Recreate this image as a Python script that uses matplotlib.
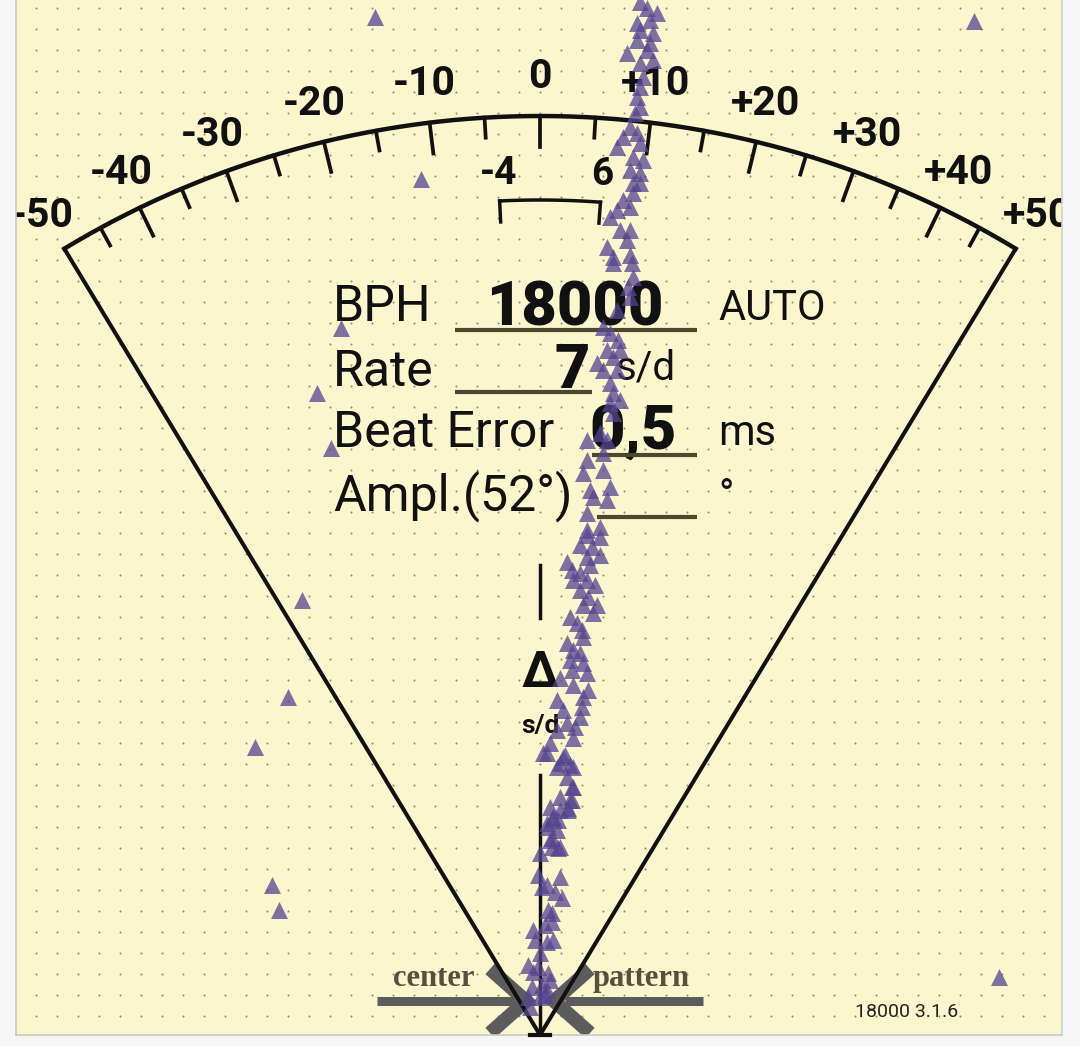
import numpy as np
import matplotlib.pyplot as plt
from matplotlib.patches import Rectangle

plt.rcParams["font.family"] = ["Roboto", "DejaVu Sans"]

# dial scale in s/d
major_ticks = [-40, -30, -20, -10, 0, 10, 20, 30, 40]
minor_ticks = [-45, -35, -25, -15, -5, 5, 15, 25, 35, 45]
scale_labels = [-50, -40, -30, -20, -10, 0, 10, 20, 30, 40, 50]
scale_edge = 50
bracket = [-4, 6]

# readout block
reading_names = ["BPH", "Rate", "Beat Error", "Ampl.(52°)"]
reading_values = ["18000", "7", "0,5", ""]
reading_units = ["AUTO", "s/d", "ms", "°"]
version = "18000 3.1.6"

# beat trace (screen px)
trace_x = [640, 647, 657, 637, 650, 640, 653, 637, 650, 627, 647, 653, 640, 643, 640,
           637, 640, 635, 630, 637, 623, 640, 617, 633, 643, 630, 640, 633, 640, 633,
           623, 630, 617, 610, 620, 630, 627, 607, 630, 613,
           613, 632, 633, 628, 630, 617, 603, 610, 618, 607, 620, 613, 597, 603, 617,
           610, 613, 620, 610, 613, 600, 587, 607, 603, 587, 603, 583, 610, 590, 593,
           607, 587, 600, 587,
           587, 600, 580, 592, 600, 587, 567, 590, 572, 580, 573, 587, 595, 580, 588,
           597, 583, 593, 570, 577, 582, 583, 567, 573, 580, 570, 583, 572, 587, 560,
           573, 588, 583, 557, 582, 563, 580, 567, 575, 557, 573, 550, 543, 547, 565,
           560, 570, 563, 557, 573, 567, 572, 573, 560, 570, 572, 550, 568, 560, 568,
           553, 552, 558, 547, 548, 557, 550, 552, 560, 558, 552, 540,
           538, 560, 547, 542, 555, 562, 548, 552, 552, 545, 533, 553, 535, 547, 540,
           528, 538, 533, 548, 550, 542, 532, 547, 545, 528, 540, 530]
trace_y = [2, 8, 13, 23, 20, 30, 33, 40, 43, 53, 50, 60, 63, 77, 87,
           97, 107, 113, 127, 133, 137, 143, 147, 157, 160, 170, 173, 183, 183, 193,
           200, 207, 210, 217, 230, 230, 240, 247, 255, 257,
           263, 263, 277, 287, 297, 310, 327, 333, 340, 350, 350, 357, 363, 370, 370,
           383, 393, 400, 403, 413, 433, 440, 440, 453, 460, 470, 473, 487, 490, 497,
           500, 513, 527, 530,
           535, 537, 545, 547, 555, 557, 562, 565, 570, 573, 580, 580, 585, 590, 597,
           605, 605, 613, 617, 623, 630, 637, 643, 650, 653, 660, 663, 670, 673, 678,
           685, 690, 697, 700, 707, 710, 717, 723, 727, 730, 738, 743, 753, 753, 755,
           763, 765, 757, 767, 767, 777, 787, 787, 797, 800, 800, 807, 808, 810, 810,
           817, 818, 820, 823, 827, 830, 840, 838, 847, 848, 847, 853,
           875, 877, 885, 887, 892, 898, 910, 913, 922, 925, 930, 940, 940, 942, 953,
           965, 967, 972, 973, 980, 985, 987, 990, 995, 997, 997, 1007]
stray_x = [375, 974, 421, 341, 317, 331, 302, 288, 255, 272, 279, 999]
stray_y = [17, 21, 179, 328, 393, 448, 600, 697, 747, 885, 910, 977]

# dial geometry
CX, CY = 540, 1035
R_ARC = 919
K = 0.0121


def polar(v, r):
    th = np.arctan(K * np.asarray(v, dtype=float))
    return CX + r * np.sin(th), CY - r * np.cos(th)


BG = "#f6f6f6"
PANEL = "#fcf6cf"
INK = "#111111"
ULINE = "#4f4630"

fig = plt.figure(figsize=(10.8, 10.46), dpi=100, facecolor=BG)
ax = fig.add_axes([0, 0, 1, 1])
ax.set_xlim(0, 1080)
ax.set_ylim(1046, 0)
ax.axis("off")

ax.add_patch(Rectangle((16, 0), 1046, 1035, fc=PANEL, ec="none", zorder=0))

# dotted grid
gx, gy = np.meshgrid(np.arange(15, 1062, 21), np.arange(8, 1035, 21))
ax.scatter(gx.ravel(), gy.ravel(), s=2.2, c="#958d74", linewidths=0, zorder=1)

# center / pattern marks
ax.plot([377, 515], [1001, 1001], color="#5c5c5c", lw=6.5, solid_capstyle="butt", zorder=2)
ax.plot([565, 703], [1001, 1001], color="#5c5c5c", lw=6.5, solid_capstyle="butt", zorder=2)
ax.plot([490, 526, 490], [969, 1001, 1033], color="#5c5c5c", lw=10,
        solid_joinstyle="miter", solid_capstyle="butt", zorder=2)
ax.plot([590, 554, 590], [969, 1001, 1033], color="#5c5c5c", lw=10,
        solid_joinstyle="miter", solid_capstyle="butt", zorder=2)
ax.text(434, 986, "center", ha="center", va="baseline", fontsize=22,
        family="Liberation Serif", weight="bold", color="#57503f", zorder=3)
ax.text(641, 986, "pattern", ha="center", va="baseline", fontsize=22,
        family="Liberation Serif", weight="bold", color="#57503f", zorder=3)

# dial arc and fan
vv = np.linspace(-scale_edge, scale_edge, 300)
ax_, ay_ = polar(vv, R_ARC)
ax.plot(ax_, ay_, color=INK, lw=3.2, zorder=4)
for edge in (-scale_edge, scale_edge):
    ex, ey = polar(edge, R_ARC)
    ax.plot([CX, ex], [CY, ey], color=INK, lw=2.9, solid_capstyle="round", zorder=4)
for v in major_ticks:
    x0, y0 = polar(v, R_ARC)
    x1, y1 = polar(v, R_ARC - 31)
    ax.plot([x0, x1], [y0, y1], color=INK, lw=2.7, zorder=4)
for v in minor_ticks:
    x0, y0 = polar(v, R_ARC)
    x1, y1 = polar(v, R_ARC - 20)
    ax.plot([x0, x1], [y0, y1], color=INK, lw=2.7, zorder=4)

for v in scale_labels:
    lx, ly = polar(v, 961)
    txt = "0" if v == 0 else ("%+d" % v)
    ax.text(lx, ly + 14.3, txt, ha="center", va="baseline", fontsize=29.5,
            weight="bold", color=INK, zorder=5)

# inner bracket
bv = np.linspace(bracket[0], bracket[1], 60)
bx, by = polar(bv, 835)
ax.plot(bx, by, color=INK, lw=2.5, zorder=4)
for v in bracket:
    x0, y0 = polar(v, 835)
    x1, y1 = polar(v, 814)
    ax.plot([x0, x1], [y0, y1], color=INK, lw=2.5, zorder=4)
    lx, ly = polar(v, 866)
    ax.text(lx, ly + 13.5, "%d" % v, ha="center", va="baseline", fontsize=28,
            weight="bold", color=INK, zorder=5)

# center axis and delta label
ax.plot([CX, CX], [565, 618], color=INK, lw=2.5, zorder=4)
ax.plot([CX, CX], [775, CY], color=INK, lw=2.5, zorder=4)
ax.text(CX, 687, "Δ", ha="center", va="baseline", fontsize=36, weight="bold",
        color=INK, zorder=5)
ax.text(CX, 733, "s/d", ha="center", va="baseline", fontsize=19, weight="bold",
        color=INK, zorder=5)

# readout
name_base = [321, 386, 447, 510]
for name, yb in zip(reading_names, name_base):
    ax.text(333, yb, name, ha="left", va="baseline", fontsize=36, color=INK, zorder=5)

value_pos = [(663, 325), (590, 388), (677, 449), (690, 510)]
for val, (xr, yb) in zip(reading_values, value_pos):
    ax.text(xr, yb, val, ha="right", va="baseline", fontsize=44, weight="heavy",
            color=INK, zorder=5)

unit_pos = [(718, 320), (615, 380), (718, 445), (718, 509)]
unit_size = [30, 29, 30, 30]
for unit, (xl, yb), fs in zip(reading_units, unit_pos, unit_size):
    ax.text(xl, yb, unit, ha="left", va="baseline", fontsize=fs, color=INK, zorder=5)

underlines = [(455, 697, 330), (455, 592, 392), (592, 697, 455), (597, 697, 517)]
for x0, x1, yl in underlines:
    ax.plot([x0, x1], [yl, yl], color=ULINE, lw=3, solid_capstyle="butt", zorder=5)

ax.text(855, 1017, version, ha="left", va="baseline", fontsize=14, color="#222222", zorder=5)

# beats
ax.scatter(trace_x, trace_y, marker="^", s=150, c="#55458f", alpha=0.75,
           linewidths=0, zorder=8)
ax.scatter(stray_x, stray_y, marker="^", s=150, c="#55458f", alpha=0.75,
           linewidths=0, zorder=8)

# outside frame
for rx, ry, rw, rh in [(0, 0, 16, 1046), (1062, 0, 18, 1046), (0, 1035, 1080, 11)]:
    ax.add_patch(Rectangle((rx, ry), rw, rh, fc=BG, ec="none", zorder=20))
ax.plot([16, 16], [0, 1035], color="#c9c9c2", lw=1.2, zorder=21)
ax.plot([1062, 1062], [0, 1035], color="#cdd6cc", lw=1.2, zorder=21)
ax.plot([16, 1062], [1035, 1035], color="#c9c9c2", lw=1.2, zorder=21)
ax.plot([530, 550], [CY, CY], color=INK, lw=3, zorder=22)

fig.savefig("out.png", dpi=100, facecolor=BG)
